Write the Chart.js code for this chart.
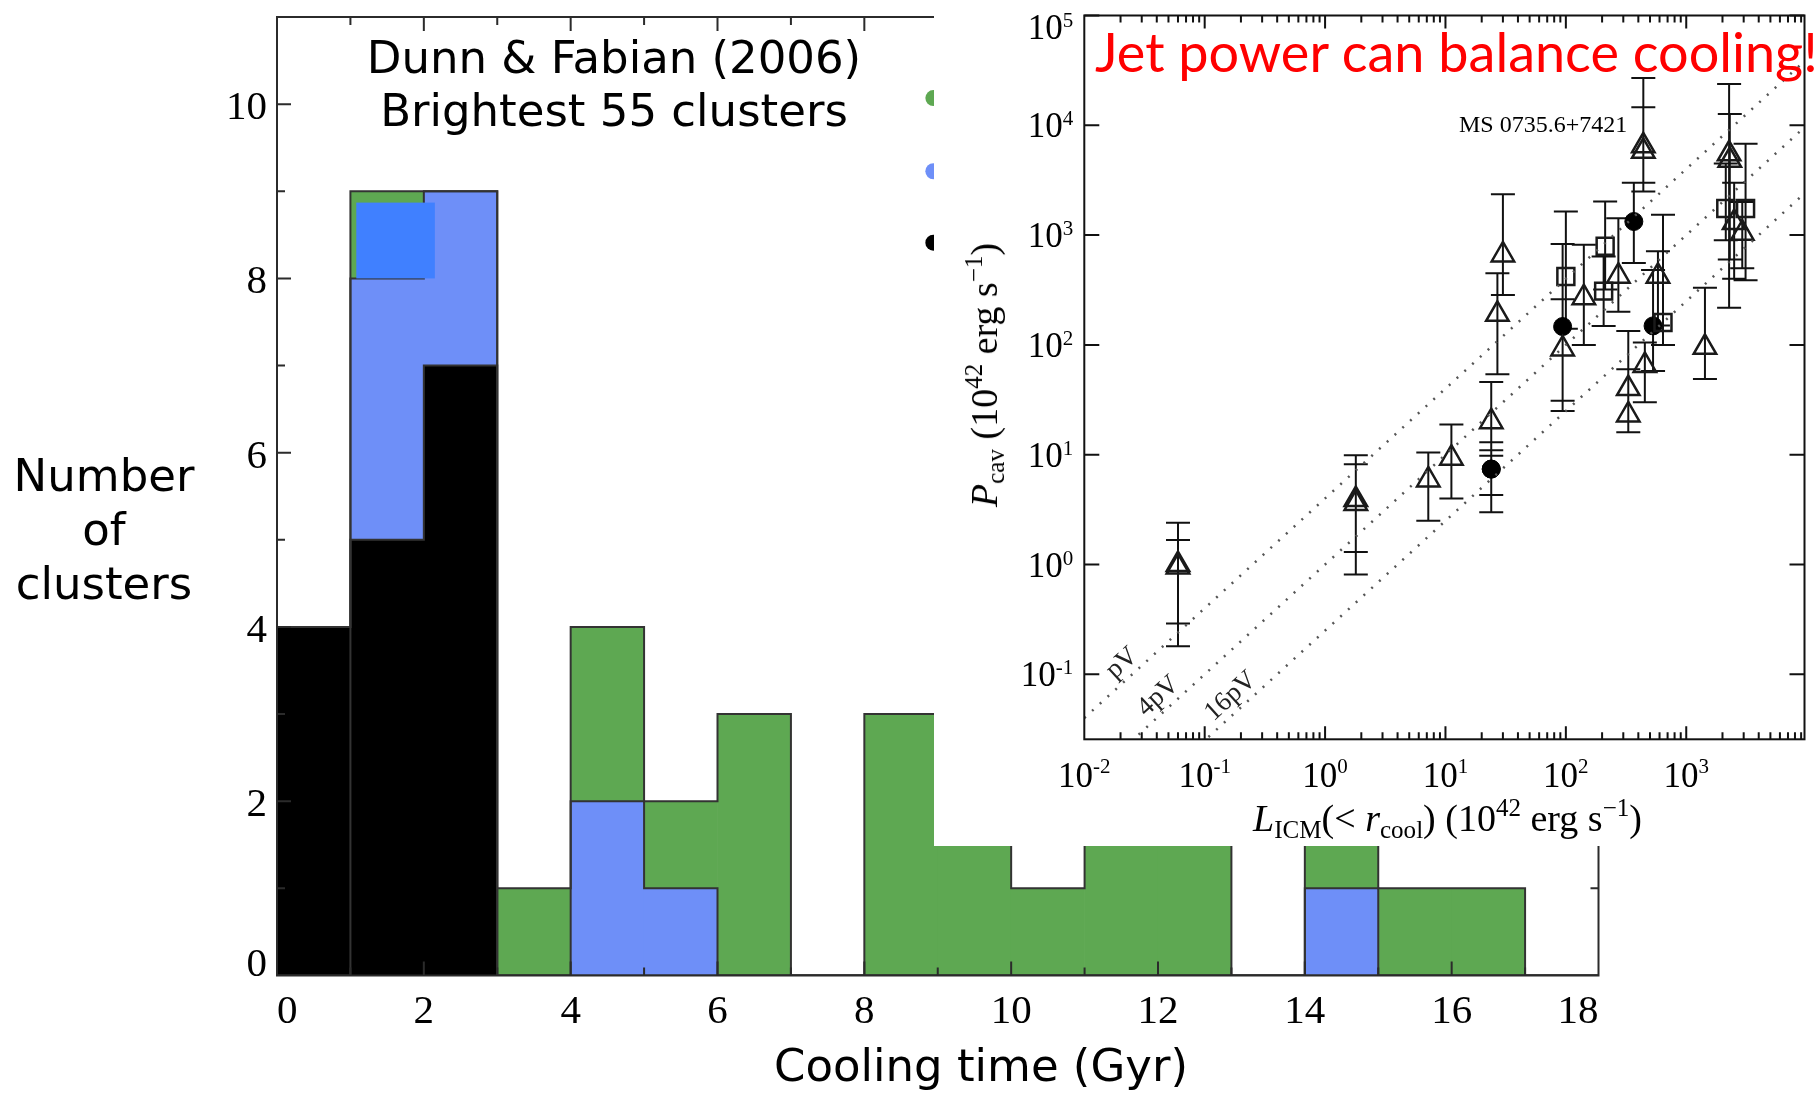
<!DOCTYPE html>
<html>
<head>
<meta charset="utf-8">
<title>Cooling time histogram with cavity power inset</title>
<script src="https://cdn.jsdelivr.net/npm/chart.js@4.4.1/dist/chart.umd.min.js"></script>
<style>
  html, body { margin: 0; padding: 0; background: #fff; }
  #page { position: relative; width: 1820px; height: 1096px; overflow: hidden; }
  #hist { position: absolute; left: 0; top: 0; }
  #insetBox { position: absolute; left: 934px; top: 0; width: 886px; height: 846px; background: #fff; }
  .lbl { position: absolute; white-space: nowrap; color: #000; }
  .sans { font-family: "DejaVu Sans", Verdana, sans-serif; font-size: 45px; text-align: center; }
  .serif { font-family: "Liberation Serif", "Times New Roman", serif; font-size: 38px; line-height: 1; }
  .serif sub, .serif sup { font-size: 0.66em; line-height: 0; }
  .serif sub { vertical-align: -0.28em; }
  .serif sup { vertical-align: 0.6em; }
</style>
</head>
<body>
<div id="page">
  <canvas id="hist" width="1820" height="1096"></canvas>
  <div id="insetBox"><canvas id="inset" width="886" height="846"></canvas></div>

  <div class="lbl sans" style="left:614px; top:31px; line-height:53px; transform:translateX(-50%);">Dunn &amp; Fabian (2006)<br>Brightest 55 clusters</div>
  <div class="lbl sans" style="left:104px; top:449px; line-height:54px; transform:translateX(-50%);">Number<br>of<br>clusters</div>
  <div class="lbl sans" style="left:981px; top:1039px; line-height:53px; transform:translateX(-50%);">Cooling time (Gyr)</div>

  <div class="lbl serif" style="left:1253px; top:799px;"><i>L</i><sub>ICM</sub>(&lt; <i>r</i><sub>cool</sub>) (10<sup>42</sup> erg s<sup>&minus;1</sup>)</div>
  <div class="lbl serif" style="left:984px; top:375px; transform:translate(-50%,-50%) rotate(-90deg);"><i>P</i><sub>cav</sub> (10<sup>42</sup> erg s<sup>&minus;1</sup>)</div>
  <div class="lbl serif" style="left:1459px; top:112px; font-size:24px;">MS 0735.6+7421</div>
  <div class="lbl" style="left:1095px; top:25px; font-family:Lato, sans-serif; font-size:54px; line-height:1; color:#ff0000;">Jet power can balance cooling!</div>
</div>

<script>
// ---------- histogram of central cooling times (1 Gyr bins) ----------
const binStart    = [0, 1, 2, 3, 4, 5, 6, 7, 8, 9, 10, 11, 12, 13, 14, 15, 16, 17];
const allCounts   = [4, 9, 9, 1, 4, 2, 3, 0, 3, 2, 1, 2, 2, 0, 2, 1, 1, 0];
const blueCounts  = [0, 8, 9, 0, 2, 1, 0, 0, 0, 0, 0, 0, 0, 0, 1, 0, 0, 0];
const blackCounts = [4, 5, 7, 0, 0, 0, 0, 0, 0, 0, 0, 0, 0, 0, 0, 0, 0, 0];
const histXTicks  = [0, 2, 4, 6, 8, 10, 12, 14, 16, 18];
const histYTicks  = [0, 2, 4, 6, 8, 10];

// highlighted box on the 1-2 Gyr bin and the (partly hidden) legend markers
const patchX  = [1.08, 2.15];
const patchY  = [8.0, 8.87];
const legendX = 8.94;
const legendY = [10.07, 9.23, 8.41];

// ---------- inset: cavity power vs. cooling luminosity ----------
const triL  = [0.060, 0.060, 1.8, 1.8, 7.2, 11.2, 24, 30, 27, 94, 141, 273, 440, 440, 330, 330, 453, 582, 1430, 2270, 2300, 2920, 2500];
const triP  = [1.0, 0.95, 3.9, 3.6, 5.9, 9.3, 20, 660, 190, 92, 269, 423, 6500, 5800, 40, 23, 65, 423, 95, 5500, 4800, 1040, 1300];
const triLo = [0.18, 0.29, 0.81, 1.3, 2.5, 4.0, 11, 285, 54, 25, 100, 200, 2500, 3000, 16, 16, 30, 150, 49, 218, 600, 500, 400];
const triHi = [2.4, 1.67, 9.9, 8.2, 10.5, 18.8, 46, 2350, 450, 260, 816, 1425, 27000, 14600, 134, 60, 105, 711, 331, 23800, 12700, 2000, 3000];

const sqL  = [100, 212, 206, 641, 2130, 3110];
const sqP  = [420, 790, 309, 160, 1750, 1750];
const sqLo = [140, 320, 149, 100, 900, 389];
const sqHi = [1640, 2020, 640, 1530, 4500, 6800];

const dotL  = [24, 24, 94, 367, 530];
const dotP  = [7.4, 7.4, 147, 1330, 149];
const dotLo = [3.0, 4.3, 31, 558, 58];
const dotHi = [13, 9.8, 830, 3000, 480];

// P = k * L guide lines
const guideNames  = ['pV', '4pV', '16pV'];
const guideFactor = [4, 1, 0.25];
const guideRange  = [0.01, 9600];

const insetXMajor = [0.01, 0.1, 1, 10, 100, 1000];
const insetYMajor = [0.1, 1, 10, 100, 1000, 10000, 100000];

// ---------- histogram chart ----------
const GREEN = '#5ea852';
const BLUE = '#6e8ff8';

const pts = (counts) => binStart.map((b, i) => ({ x: b + 0.5, y: counts[i] }));
// bin edges for the step outline (horizontal across each bin, then down/up at the edge)
const steps = (counts) => binStart.map((b, i) => ({ x: b, y: counts[i] })).concat([{ x: 18, y: 0 }]);

const histFrame = {
  id: 'histFrame',
  afterDatasetsDraw(chart) {
    const { ctx, chartArea: a, scales: { x, y } } = chart;
    ctx.save();

    ctx.fillStyle = '#4080ff';
    const px0 = x.getPixelForValue(patchX[0]), px1 = x.getPixelForValue(patchX[1]);
    const py0 = y.getPixelForValue(patchY[0]), py1 = y.getPixelForValue(patchY[1]);
    ctx.fillRect(px0, py1, px1 - px0, py0 - py1);

    [GREEN, BLUE, '#000'].forEach((c, i) => {
      ctx.beginPath();
      ctx.arc(x.getPixelForValue(legendX), y.getPixelForValue(legendY[i]), 8, 0, Math.PI * 2);
      ctx.fillStyle = c;
      ctx.fill();
    });

    // frame with inward ticks every unit, longer on even values
    ctx.strokeStyle = '#2b2b2b';
    ctx.lineWidth = 2;
    ctx.strokeRect(a.left, a.top, a.right - a.left, a.bottom - a.top);
    ctx.beginPath();
    for (let v = 1; v < 18; v++) {
      const px = x.getPixelForValue(v), len = v % 2 ? 8 : 14;
      ctx.moveTo(px, a.bottom); ctx.lineTo(px, a.bottom - len);
      ctx.moveTo(px, a.top); ctx.lineTo(px, a.top + len);
    }
    for (let v = 1; v < 11; v++) {
      const py = y.getPixelForValue(v), len = v % 2 ? 8 : 14;
      ctx.moveTo(a.left, py); ctx.lineTo(a.left + len, py);
      ctx.moveTo(a.right, py); ctx.lineTo(a.right - len, py);
    }
    ctx.stroke();

    ctx.fillStyle = '#000';
    ctx.font = '41px "Liberation Serif"';
    ctx.textBaseline = 'alphabetic';
    histXTicks.forEach((v, i) => {
      const px = x.getPixelForValue(v);
      ctx.textAlign = i === 0 ? 'left' : (i === histXTicks.length - 1 ? 'right' : 'center');
      ctx.fillText(String(v), px, a.bottom + 47);
    });
    ctx.textAlign = 'right';
    histYTicks.forEach((v) => {
      const py = y.getPixelForValue(v);
      ctx.fillText(String(v), a.left - 10, v === 0 ? a.bottom : py + 15);
    });
    ctx.restore();
  }
};

const outline = (counts) => ({
  type: 'line', data: steps(counts), stepped: 'before',
  borderColor: '#333', borderWidth: 2, pointRadius: 0, fill: false, order: 0,
});

new Chart(document.getElementById('hist'), {
  type: 'bar',
  data: {
    datasets: [
      outline(allCounts),
      outline(blueCounts),
      outline(blackCounts),
      { label: 'black', data: pts(blackCounts), backgroundColor: '#000', order: 1 },
      { label: 'blue', data: pts(blueCounts), backgroundColor: BLUE, order: 2 },
      { label: 'green', data: pts(allCounts), backgroundColor: GREEN, order: 3 },
    ],
  },
  options: {
    responsive: false,
    animation: false,
    layout: { padding: { left: 277, right: 221.5, top: 17, bottom: 120.5 } },
    datasets: { bar: { grouped: false, barPercentage: 1, categoryPercentage: 1, borderWidth: 0 } },
    plugins: { legend: { display: false }, tooltip: { enabled: false } },
    scales: {
      x: { type: 'linear', min: 0, max: 18, offset: false, display: false },
      y: { type: 'linear', min: 0, max: 11, display: false },
    },
  },
  plugins: [histFrame],
});

// ---------- inset chart ----------
const xy = (L, P) => L.map((l, i) => ({ x: l, y: P[i] }));
const errorSets = [
  { L: triL, lo: triLo, hi: triHi },
  { L: sqL, lo: sqLo, hi: sqHi },
  { L: dotL, lo: dotLo, hi: dotHi },
];
const guideLabelAt = [0.025, 0.05, 0.2];

const errorBars = {
  id: 'errorBars',
  beforeDatasetsDraw(chart) {
    const { ctx, chartArea: a, scales: { x, y } } = chart;
    ctx.save();
    ctx.beginPath();
    ctx.rect(a.left, a.top, a.right - a.left, a.bottom - a.top);
    ctx.clip();
    ctx.strokeStyle = '#111';
    ctx.lineWidth = 2;
    ctx.beginPath();
    errorSets.forEach((s) => s.L.forEach((l, i) => {
      const px = x.getPixelForValue(l);
      const y0 = y.getPixelForValue(s.lo[i]), y1 = y.getPixelForValue(s.hi[i]);
      ctx.moveTo(px, y0); ctx.lineTo(px, y1);
      ctx.moveTo(px - 12, y0); ctx.lineTo(px + 12, y0);
      ctx.moveTo(px - 12, y1); ctx.lineTo(px + 12, y1);
    }));
    ctx.stroke();
    ctx.restore();
  }
};

const insetFrame = {
  id: 'insetFrame',
  afterDraw(chart) {
    const { ctx, chartArea: a, scales: { x, y } } = chart;
    ctx.save();

    // guide line names, rotated along the lines
    ctx.fillStyle = '#222';
    ctx.font = '27px "Liberation Serif"';
    ctx.textAlign = 'center';
    ctx.textBaseline = 'middle';
    guideNames.forEach((name, i) => {
      const L = guideLabelAt[i];
      const px = x.getPixelForValue(L), py = y.getPixelForValue(L * guideFactor[i]);
      const qx = x.getPixelForValue(L * 10), qy = y.getPixelForValue(L * 10 * guideFactor[i]);
      const ang = Math.atan2(qy - py, qx - px);
      ctx.save();
      ctx.translate(px + Math.sin(ang) * 15, py - Math.cos(ang) * 15);
      ctx.rotate(ang);
      ctx.fillText(name, 0, 0);
      ctx.restore();
    });

    ctx.strokeStyle = '#111';
    ctx.lineWidth = 2;
    ctx.strokeRect(a.left, a.top, a.right - a.left, a.bottom - a.top);
    ctx.beginPath();
    for (let e = -2; e <= 3; e++) {
      for (let k = 1; k <= 9; k++) {
        const v = k * Math.pow(10, e);
        if (v <= x.min || v >= x.max) continue;
        const px = x.getPixelForValue(v), len = k === 1 ? 13 : 7;
        ctx.moveTo(px, a.bottom); ctx.lineTo(px, a.bottom - len);
        ctx.moveTo(px, a.top); ctx.lineTo(px, a.top + len);
      }
    }
    insetYMajor.forEach((v) => {
      const py = y.getPixelForValue(v);
      ctx.moveTo(a.left, py); ctx.lineTo(a.left + 15, py);
      ctx.moveTo(a.right, py); ctx.lineTo(a.right - 15, py);
    });
    ctx.stroke();

    ctx.fillStyle = '#000';
    ctx.textBaseline = 'alphabetic';
    const big = '35px "Liberation Serif"', small = '21px "Liberation Serif"';
    // y labels: "10" with exponent, right of label near the axis
    insetYMajor.forEach((v) => {
      const exp = String(Math.round(Math.log10(v)));
      const py = Math.max(y.getPixelForValue(v), a.top + 11);
      ctx.font = small;
      const ew = ctx.measureText(exp).width;
      ctx.textAlign = 'right';
      ctx.fillText(exp, a.left - 11, py);
      ctx.font = big;
      ctx.fillText('10', a.left - 11 - ew, py + 12);
    });
    // x labels centred on the ticks
    insetXMajor.forEach((v) => {
      const exp = String(Math.round(Math.log10(v)));
      const px = x.getPixelForValue(v);
      ctx.font = big;
      const bw = ctx.measureText('10').width;
      ctx.font = small;
      const ew = ctx.measureText(exp).width;
      const left = px - (bw + ew) / 2;
      ctx.textAlign = 'left';
      ctx.fillText(exp, left + bw, a.bottom + 34);
      ctx.font = big;
      ctx.fillText('10', left, a.bottom + 48);
    });
    ctx.restore();
  }
};

new Chart(document.getElementById('inset'), {
  type: 'scatter',
  data: {
    datasets: guideFactor.map((f) => ({
      data: guideRange.map((l) => ({ x: l, y: l * f })),
      showLine: true, pointRadius: 0, borderColor: '#555', borderWidth: 2.5, borderDash: [2, 8.5],
    })).concat([
      { label: 'triangles', data: xy(triL, triP), pointStyle: 'triangle', pointRadius: 13, borderColor: '#1a1a1a', backgroundColor: 'rgba(0,0,0,0)', borderWidth: 2.5 },
      { label: 'squares', data: xy(sqL, sqP), pointStyle: 'rect', pointRadius: 12, borderColor: '#1a1a1a', backgroundColor: 'rgba(0,0,0,0)', borderWidth: 2.5 },
      { label: 'filled', data: xy(dotL, dotP), pointStyle: 'circle', pointRadius: 9, borderColor: '#000', backgroundColor: '#000', borderWidth: 1 },
    ]),
  },
  options: {
    responsive: false,
    animation: false,
    layout: { padding: { left: 150.3, right: 9.3, top: 11, bottom: 106.7 } },
    plugins: { legend: { display: false }, tooltip: { enabled: false } },
    scales: {
      x: { type: 'logarithmic', min: 0.01, max: 9600, display: false },
      y: { type: 'logarithmic', min: 0.0256, max: 100000, display: false },
    },
  },
  plugins: [errorBars, insetFrame],
});
</script>
</body>
</html>
